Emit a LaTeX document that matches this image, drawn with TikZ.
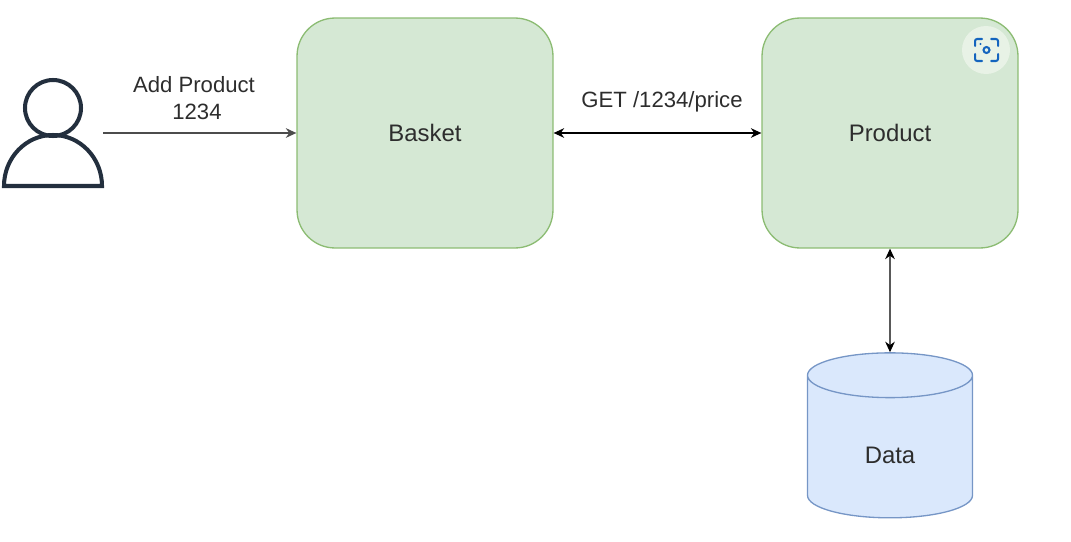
\documentclass[tikz,border=0pt]{standalone}
\usepackage{fontspec}
\setmainfont{Liberation Sans}
\usetikzlibrary{shapes.geometric, arrows.meta}
\definecolor{boxfill}{RGB}{213, 232, 212}
\definecolor{boxline}{RGB}{140, 188, 115}
\definecolor{cylfill}{RGB}{218, 232, 252}
\definecolor{cylline}{RGB}{118, 150, 198}
\definecolor{person}{RGB}{35, 47, 62}
\definecolor{lenscircle}{RGB}{232, 242, 230}
\definecolor{lensblue}{RGB}{20, 100, 190}
\definecolor{label}{RGB}{45, 45, 45}
\tikzset{
  service/.style={draw=boxline, fill=boxfill, line width=0.75pt, rounded corners=0.76cm,
    minimum width=5.12cm, minimum height=4.6cm, font=\fontsize{13.6}{16}\selectfont, text=label},
  store/.style={cylinder, shape border rotate=90, aspect=0.72, draw=cylline, fill=cylfill,
    cylinder uses custom fill, cylinder body fill=cylfill, cylinder end fill=cylfill, line width=0.75pt,
    minimum width=3.3cm, minimum height=3.3cm, font=\fontsize{13.6}{16}\selectfont, text=label},
  link/.style={line width=0.65pt, >={Stealth[length=6pt, width=5.5pt]}, black},
  caption/.style={font=\fontsize{12.6}{15.5}\selectfont, text=label, align=center}
}

\begin{document}
\begin{tikzpicture}[x=0.02cm, y=-0.02cm]
  \useasboundingbox (0, 0) rectangle (1071, 541);

  \node[service] (basket) at (425, 133) {Basket};
  \node[service] (product) at (890, 133) {Product};
  \node[store] (data) at (890, 451) {\raisebox{-2.3pt}[\height][0pt]{Data}};

  % person
  \draw[person, line width=2.3pt] (53, 108) circle (28);
  \draw[person, line width=2.3pt] (4, 186) arc (180:360:49 and 51) -- cycle;
  \coordinate (user) at (103, 133);

  \draw[->, link, draw=black!70, line width=0.9pt] (user) -- (basket.west);
  \draw[<->, link] (basket.east) -- (product.west);
  \draw[<->, link] (product.south) -- (data.north);

  \node[caption] (addlabel) at (194, 98) {Add Product\\\hspace*{3.4pt}1234};
  \node[caption] (getlabel) at (662, 102) {GET /1234/price};

  % lens button
  \fill[lenscircle] (986, 50) circle (24);
  \foreach \x/\y/\dx/\dy in {975/46/1/-1, 998/46/-1/-1, 975/54/1/1, 998/54/-1/1} {
    \draw[lensblue, line width=1.15pt, line cap=round, rounded corners=1.2pt] (\x, \y) -- (\x, {\y + 7 * \dy}) -- ({\x + 7 * \dx}, {\y + 7 * \dy});
  }
  \draw[lensblue, line width=1.15pt] (986.5, 50) circle (3);
  \fill[lensblue] (980.5, 44) circle (1.2);
\end{tikzpicture}
\end{document}
